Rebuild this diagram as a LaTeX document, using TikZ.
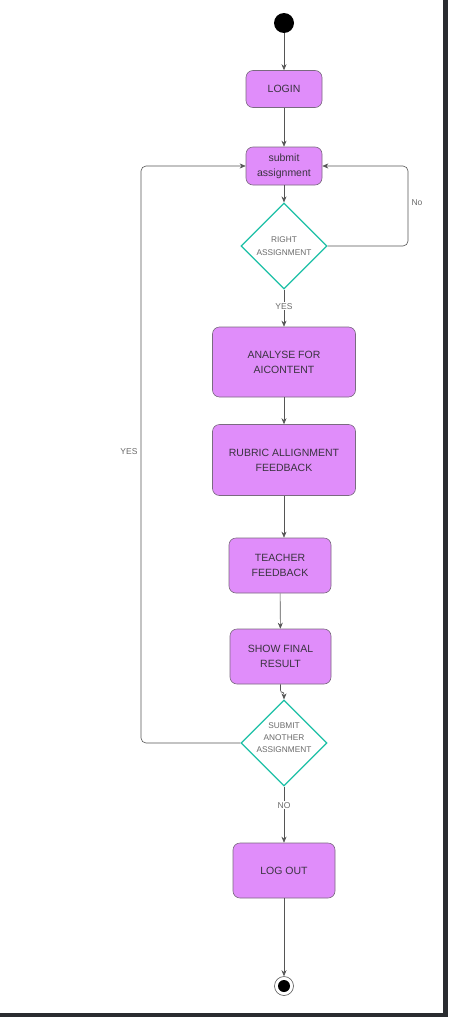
\documentclass[tikz,border=0pt]{standalone}
\usepackage{fontspec}
\setmainfont{Liberation Sans}
\usetikzlibrary{shapes.geometric,arrows.meta,calc}
\definecolor{boxfill}{HTML}{E08DFA}
\definecolor{boxline}{HTML}{7A6A80}
\definecolor{teal}{HTML}{1CC0A6}
\definecolor{txt}{HTML}{3A3340}
\definecolor{lbl}{HTML}{6A6A6A}
\definecolor{edge}{HTML}{555555}
\definecolor{frame}{HTML}{2A2C30}
\tikzset{
  act/.style={draw=boxline, fill=boxfill, rounded corners=7pt, line width=0.6pt,
    align=center, font=\fontsize{10.5}{15}\selectfont, text=txt, inner sep=0pt},
  dec/.style={diamond, draw=teal, line width=1.2pt, fill=white, minimum width=86pt,
    minimum height=86pt, inner sep=0pt, align=center, font=\fontsize{8.3}{12.3}\selectfont, text=lbl},
  conn/.style={draw=edge, line width=0.6pt, -{Stealth[length=6pt,width=5pt]}},
  lab/.style={font=\fontsize{8.5}{10}\selectfont, text=lbl, fill=white, inner sep=1pt},
}
\begin{document}
\begin{tikzpicture}[x=1pt,y=-1pt]
\useasboundingbox (0,0) rectangle (448,1017);
\fill[white] (0,0) rectangle (448,1017);
\fill[frame] (443,0) rectangle (448,1017);
\fill[frame] (0,1013) rectangle (448,1017);

\node[circle, fill=black, minimum size=20pt, inner sep=0pt] (start) at (284,23) {};
\node[act, minimum width=76pt, minimum height=37pt] (login) at (284,89) {LOGIN};
\node[act, minimum width=76pt, minimum height=38pt] (submit) at (284,166) {submit\\assignment};
\node[dec] (right) at (284,246) {RIGHT\\ASSIGNMENT};
\node[act, minimum width=143pt, minimum height=70pt] (analyse) at (284,362) {ANALYSE FOR\\AICONTENT};
\node[act, minimum width=143pt, minimum height=71pt] (rubric) at (284,460) {RUBRIC ALLIGNMENT\\FEEDBACK};
\node[act, minimum width=102pt, minimum height=55pt] (teacher) at (280,565.5) {TEACHER\\FEEDBACK};
\node[act, minimum width=101pt, minimum height=55pt] (show) at (280.5,656.5) {SHOW FINAL\\RESULT};
\node[dec] (another) at (284,743) {};
\node[align=center, font=\fontsize{8.3}{12.3}\selectfont, text=lbl, inner sep=0pt] at (284,737.5) {SUBMIT\\ANOTHER\\ASSIGNMENT};
\node[act, minimum width=102pt, minimum height=55pt] (logout) at (284,870.5) {LOG OUT};
\node[circle, draw=edge, line width=0.6pt, fill=white, minimum size=19pt, inner sep=0pt] (end) at (284,986) {};
\node[circle, fill=black, minimum size=12pt, inner sep=0pt] at (end) {};

\draw[conn] (start) -- (login);
\draw[conn] (login) -- (submit);
\draw[conn] (submit) -- (right);
\draw[conn] (right) -- node[lab, pos=0.45]{YES} (analyse);
\draw[conn] (analyse) -- (rubric);
\draw[conn] (rubric.south) -- (rubric.south |- teacher.north);
\draw[conn] (teacher) -- (show);
\draw[conn, rounded corners=2pt] (show.south) -- ++(0,8) -| (another.north);
\draw[conn] (another) -- node[lab, pos=0.33]{NO} (logout);
\draw[conn] (logout) -- (end);

\draw[conn, rounded corners=5pt] (right.east) -- (408,246) |- (submit.east);
\node[lab] at (417,203) {No};
\draw[conn, rounded corners=5pt] (another.west) -- (141,743) |- (submit.west);
\node[lab] at (129,452) {YES};
\end{tikzpicture}
\end{document}
